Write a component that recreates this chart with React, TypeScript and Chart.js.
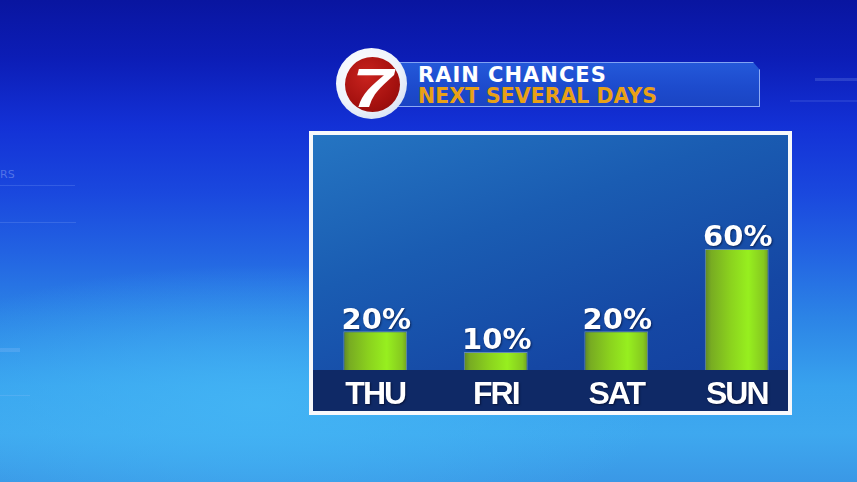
import React, { useEffect, useRef } from "react";
import { Chart, registerables } from "chart.js";

Chart.register(...registerables);

const days = ["THU", "FRI", "SAT", "SUN"];
const rainChance = [20, 10, 20, 60];
const titleLine1 = "RAIN CHANCES";
const titleLine2 = "NEXT SEVERAL DAYS";

const valueLabelPlugin = {
  id: "valueLabels",
  beforeDraw(chart: any) {
    const c = chart.ctx;
    c.letterSpacing = "-2px";
    c.shadowColor = "rgba(0,0,20,0.55)";
    c.shadowBlur = 2;
    c.shadowOffsetX = 1;
    c.shadowOffsetY = 1;
  },
  beforeDatasetsDraw(chart: any) {
    const c = chart.ctx;
    c.letterSpacing = "0px";
    c.shadowColor = "rgba(0,0,0,0)";
    c.shadowBlur = 0;
    c.shadowOffsetX = 0;
    c.shadowOffsetY = 0;
  },
  afterDatasetsDraw(chart: any) {
    const c = chart.ctx;
    const meta = chart.getDatasetMeta(0);
    c.save();
    c.font = "bold 29px 'DejaVu Sans'";
    c.textAlign = "center";
    c.textBaseline = "alphabetic";
    c.fillStyle = "#ffffff";
    c.shadowColor = "rgba(0,10,40,0.6)";
    c.shadowBlur = 2;
    c.shadowOffsetX = 1;
    c.shadowOffsetY = 1;
    meta.data.forEach((el: any, i: number) => {
      c.fillText(`${rainChance[i]}%`, el.x + 1, el.y - 2.5);
    });
    c.restore();
  },
};

function barFill(ctx: any) {
  const chart = ctx.chart;
  const xs = chart.scales && chart.scales.x;
  if (!xs || ctx.dataIndex === undefined) return "#8fe01f";
  const cx = xs.getPixelForValue(ctx.dataIndex);
  const step = xs.getPixelForValue(1) - xs.getPixelForValue(0);
  if (!isFinite(cx) || !isFinite(step) || step <= 0) return "#8fe01f";
  const w = step * 0.53;
  const g = chart.ctx.createLinearGradient(cx - w / 2, 0, cx + w / 2, 0);
  g.addColorStop(0, "#5d8529");
  g.addColorStop(0.1, "#78ac22");
  g.addColorStop(0.4, "#8bd21e");
  g.addColorStop(0.68, "#97ef1f");
  g.addColorStop(0.92, "#86c91f");
  g.addColorStop(1, "#6f9e24");
  return g;
}

function tickFill(ctx: any) {
  const chart = ctx.chart;
  const area = chart.chartArea;
  if (!area || !isFinite(area.bottom)) return "#ffffff";
  const g = chart.ctx.createLinearGradient(0, area.bottom + 10, 0, area.bottom + 34);
  g.addColorStop(0, "#ffffff");
  g.addColorStop(0.5, "#f2f2f2");
  g.addColorStop(1, "#a9abb0");
  return g;
}

export default function App() {
  const ref = useRef<HTMLCanvasElement>(null);

  useEffect(() => {
    if (!ref.current) return;
    const chart = new Chart(ref.current, {
      type: "bar",
      data: {
        labels: days,
        datasets: [
          {
            data: rainChance,
            backgroundColor: barFill as any,
            borderColor: "rgba(170,195,190,0.55)",
            borderWidth: 1,
            borderSkipped: "bottom",
            categoryPercentage: 1,
            barPercentage: 0.53,
          },
        ],
      },
      options: {
        responsive: false,
        animation: false,
        layout: { padding: { left: 315, right: 60, top: 170, bottom: 72 } },
        plugins: { legend: { display: false }, tooltip: { enabled: false }, title: { display: false } },
        scales: {
          x: {
            grid: { display: false, drawTicks: false },
            border: { display: false },
            afterFit: (scale: any) => {
              scale.height = 40;
            },
            ticks: {
              color: tickFill as any,
              padding: 6,
              font: { family: "'Liberation Sans', Arial, sans-serif", size: 32, weight: "bold" },
            },
          },
          y: { display: false, min: 1.25, max: 98.3 },
        },
      },
      plugins: [valueLabelPlugin],
    });
    return () => chart.destroy();
  }, []);

  const faint = "rgba(170,200,255,0.18)";

  return (
    <div
      style={{
        position: "fixed",
        left: 0,
        top: 0,
        width: 857,
        height: 482,
        overflow: "hidden",
        background:
          "radial-gradient(ellipse 400px 140px at 260px 405px, rgba(68,182,245,0.85), rgba(68,182,245,0) 100%), linear-gradient(to bottom, #0915a0 0%, #0c1db6 12%, #1331d6 26%, #1a48de 40%, #2262e2 52%, #2c84e6 66%, #38a2ee 80%, #3ea8ef 90%, #3a98e6 100%)",
      }}
    >
      {/* faint background decorations */}
      <div style={{ position: "absolute", left: 0, top: 185, width: 75, height: 1, background: faint }} />
      <div style={{ position: "absolute", left: 0, top: 222, width: 76, height: 1, background: faint }} />
      <div style={{ position: "absolute", left: 0, top: 395, width: 30, height: 1, background: faint }} />
      <div style={{ position: "absolute", left: 0, top: 348, width: 20, height: 4, background: "rgba(170,200,255,0.2)" }} />
      <div style={{ position: "absolute", left: 815, top: 78, width: 42, height: 3, background: "rgba(170,200,255,0.18)" }} />
      <div style={{ position: "absolute", left: 790, top: 100, width: 67, height: 2, background: "rgba(170,200,255,0.12)" }} />
      <div style={{ position: "absolute", left: 0, top: 168, fontFamily: "'DejaVu Sans'", fontSize: 11, color: "rgba(190,210,255,0.35)" }}>RS</div>

      {/* chart frame */}
      <div
        style={{
          position: "absolute",
          left: 309,
          top: 131,
          width: 475,
          height: 276,
          border: "4px solid #f7f8fb",
          background: "linear-gradient(160deg, #2575c2 0%, #1a5cb2 35%, #1547a4 70%, #113c9c 100%)",
        }}
      />
      <div style={{ position: "absolute", left: 313, top: 370, width: 475, height: 41, background: "#0f2966" }} />

      {/* title banner */}
      <div
        style={{
          position: "absolute",
          left: 392,
          top: 62,
          width: 368,
          height: 45,
          background: "linear-gradient(to bottom, #2459da 0%, #1d4bcd 55%, #1a44c4 100%)",
          clipPath: "polygon(0 0, calc(100% - 7px) 0, 100% 8px, 100% 100%, 0 100%)",
          boxShadow: "inset -1px -1px 0 rgba(170,195,255,0.8), inset 0 1px 0 rgba(170,195,255,0.7)",
        }}
      />
      <div
        style={{
          position: "absolute",
          left: 418,
          top: 65.2,
          fontFamily: "'DejaVu Sans', sans-serif",
          fontWeight: "bold",
          fontSize: 21,
          lineHeight: "21px",
          letterSpacing: 1,
          color: "#ffffff",
          whiteSpace: "nowrap",
        }}
      >
        {titleLine1}
      </div>
      <div
        style={{
          position: "absolute",
          left: 418,
          top: 85.7,
          fontFamily: "'DejaVu Sans', sans-serif",
          fontWeight: "bold",
          fontSize: 20.5,
          lineHeight: "20.5px",
          color: "#e9a116",
          whiteSpace: "nowrap",
        }}
      >
        {titleLine2}
      </div>

      {/* logo */}
      <div
        style={{
          position: "absolute",
          left: 336,
          top: 48,
          width: 71,
          height: 71,
          borderRadius: "50%",
          background: "radial-gradient(circle at 40% 35%, #ffffff 0%, #eef3fb 55%, #c4d3ee 100%)",
        }}
      />
      <div
        style={{
          position: "absolute",
          left: 344.5,
          top: 56.5,
          width: 55,
          height: 55,
          borderRadius: "50%",
          background: "radial-gradient(circle at 40% 35%, #c9231e 0%, #a5110f 60%, #870a0a 100%)",
          overflow: "hidden",
        }}
      >
        <div
          style={{
            position: "absolute",
            left: 0,
            top: 0,
            width: 55,
            height: 55,
            lineHeight: "55px",
            textAlign: "center",
            fontFamily: "'Liberation Sans', Arial, sans-serif",
            fontWeight: "bold",
            fontStyle: "italic",
            fontSize: 56,
            color: "#ffffff",
            transform: "scaleX(1.3) translateY(3px)",
          }}
        >
          7
        </div>
      </div>

      <canvas ref={ref} width={857} height={482} style={{ position: "absolute", left: 0, top: 0 }} />
    </div>
  );
}
